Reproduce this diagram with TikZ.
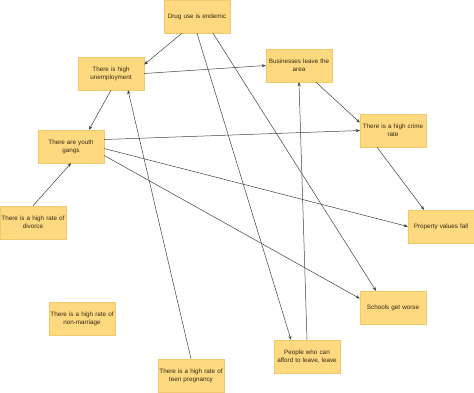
\documentclass[tikz,border=0pt]{standalone}
\usepackage{fontspec}
\setmainfont{Liberation Sans}
\usetikzlibrary{arrows.meta}
\definecolor{notefill}{RGB}{255,217,128}
\definecolor{noteline}{RGB}{240,200,110}
\definecolor{notetext}{RGB}{51,40,20}
\tikzset{
  >={Stealth[length=4pt,width=3.2pt]},
  note/.style={rectangle, draw=noteline, fill=notefill, text=notetext, minimum width=66pt, minimum height=33pt, text width=66pt, align=center, inner sep=0pt, font=\fontsize{6.3}{8}\selectfont},
  link/.style={->, draw=black!75, line width=0.5pt}
}
\begin{document}
\begin{tikzpicture}[x=1pt, y=-1pt]
  \useasboundingbox (0,0) rectangle (474,392);

  \node[note] (drug) at (197,16.5) {Drug use is endemic};
  \node[note] (unemp) at (111,73.5) {There is high\\unemployment};
  \node[note] (biz) at (299,65.5) {Businesses leave the\\area};
  \node[note] (gangs) at (71,146.5) {There are youth\\gangs};
  \node[note] (crime) at (393,130.5) {There is a high crime\\rate};
  \node[note] (prop) at (441,226.5) {Property values fall};
  \node[note] (divorce) at (33,222.5) {There is a high rate of\\divorce};
  \node[note] (nonmar) at (82,318.5) {There is a high rate of\\non-marriage};
  \node[note] (schools) at (393,307.5) {Schools get worse};
  \node[note] (leave) at (307,356.5) {People who can\\afford to leave, leave};
  \node[note] (teen) at (191,375.5) {There is a high rate of\\teen pregnancy};

  \draw[link] ([xshift=-15pt]drug.south) -- ([yshift=9pt]unemp.east);
  \draw[link] (drug.south) -- ([xshift=-16pt]leave.north);
  \draw[link] ([xshift=16pt]drug.south) -- ([xshift=-17pt]schools.north);
  \draw[link] (unemp.east) -- (biz.west);
  \draw[link] (unemp.south) -- ([xshift=18pt]gangs.north);
  \draw[link] ([yshift=7pt]gangs.east) -- (crime.west);
  \draw[link] ([yshift=-2pt]gangs.east) -- (prop.west);
  \draw[link] ([yshift=-9pt]gangs.east) -- ([yshift=9pt]schools.west);
  \draw[link] (divorce.north) -- (gangs.south);
  \draw[link] (teen.north) -- ([xshift=17pt]unemp.south);
  \draw[link] (leave.north) -- (biz.south);
  \draw[link] ([xshift=17pt]biz.south) -- ([yshift=8pt]crime.west);
  \draw[link] ([xshift=-16pt]crime.south) -- ([xshift=-17pt]prop.north);
\end{tikzpicture}
\end{document}
